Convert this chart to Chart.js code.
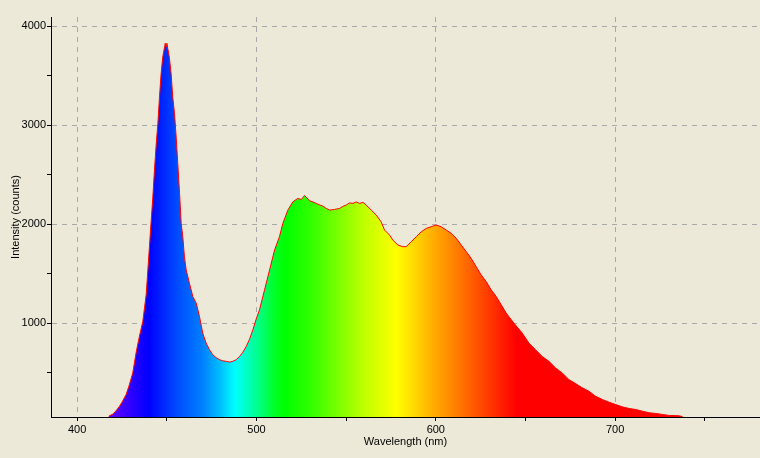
<!DOCTYPE html>
<html>
<head>
<meta charset="utf-8">
<script src="https://cdn.jsdelivr.net/npm/chart.js@4/dist/chart.umd.min.js"></script>
<style>
  html, body { margin: 0; padding: 0; background: #ece9d8; }
  #wrap { width: 760px; height: 458px; position: relative; }
</style>
</head>
<body>
<div id="wrap"><canvas id="spectrum"></canvas></div>
<script>
// spectrum readings (nm, counts)
const wavelengths = [417.6, 420, 422, 423.6, 425, 427.3, 429, 431, 433, 434.7, 436.6, 438.5,
  440.3, 441.3, 442.2, 443.1, 444.1, 445, 445.9, 446.8, 447.7, 448.7, 449.1, 449.6, 450, 450.5,
  451.4, 452.4, 453.3, 454.3, 455.2, 456.1, 457.1, 458, 458.9, 459.8, 460.8, 462.6, 464.5, 466.4,
  468.2, 470, 471.9, 473.8, 475.6, 477.5, 479.4, 481.2, 483.1, 485, 486.8, 488.7, 490.6, 492.4,
  494.3, 496.2, 498, 500, 501.7, 504.5, 507.3, 510.1, 512.8, 514.7, 517.5, 520.3, 523, 525, 526.8,
  529.6, 531.5, 533.3, 535.2, 537, 538.9, 540.8, 543.5, 546.3, 548.2, 550, 551.9, 553.8, 555.6,
  557.5, 559.4, 561.2, 564, 566.8, 569.5, 571.4, 574.2, 576, 578.8, 581.6, 583.5, 586.3, 589.1,
  591.9, 594.6, 597.4, 600.2, 603, 605.8, 608.6, 611.4, 614.2, 617, 619.7, 622.5, 625.3, 628.1,
  630.9, 633.7, 636.5, 639.3, 643.5, 648.2, 651.9, 655.6, 659.3, 663.1, 666.8, 670.5, 674.2, 678,
  681.7, 685.4, 689.1, 692.9, 696.6, 700.3, 704, 707.8, 711.5, 715.2, 718.9, 722.7, 726.4, 730.1,
  733.5, 735.7, 737.6];
const counts = [58, 80, 120, 159, 200, 277, 370, 496, 714, 865, 1016, 1290,
  1772, 2041, 2276, 2545, 2815, 3016, 3284, 3520, 3687, 3788, 3830, 3795, 3830, 3780,
  3687, 3520, 3284, 3117, 2881, 2613, 2311, 2008, 1873, 1671, 1537, 1403, 1268, 1201,
  1066, 899, 798, 731, 680, 650, 630, 618, 613, 605, 613, 630, 663, 705,
  764, 840, 932, 1050, 1134, 1336, 1537, 1739, 1873, 2008, 2142, 2226, 2260, 2250, 2290,
  2236, 2225, 2210, 2195, 2182, 2160, 2142, 2149, 2159, 2180, 2193, 2215, 2210, 2225,
  2210, 2220, 2193, 2142, 2092, 2024, 1941, 1890, 1840, 1789, 1772, 1772, 1823, 1873,
  1923, 1957, 1974, 1991, 1974, 1941, 1907, 1857, 1789, 1722, 1655, 1571, 1487, 1419,
  1336, 1268, 1184, 1100, 1000, 899, 798, 731, 663, 613, 546, 496, 428, 388,
  345, 311, 260, 227, 200, 176, 153, 136, 126, 109, 93, 86, 76, 66,
  64, 62, 55];

const xTicks = [400, 450, 500, 550, 600, 650, 700, 750];
const xLabels = [400, 500, 600, 700];
const yTicks = [500, 1000, 1500, 2000, 2500, 3000, 3500, 4000];
const yLabels = [1000, 2000, 3000, 4000];

// colour of the light at each wavelength, for the fill
const specNm = [414, 422, 432, 440, 455, 470, 480, 488, 500, 510, 516, 530, 545, 560, 578, 590, 600, 615, 630, 645, 760];
const specColors = ['#7000ff', '#5200ff', '#2400ff', '#0000ff', '#0048ff', '#0080ff', '#00c0ff', '#00ffff', '#00ff90',
  '#00ff28', '#00ff00', '#30ff00', '#78ff00', '#c0ff00', '#ffff00', '#ffd000', '#ffa800', '#ff7000', '#ff3800',
  '#ff0000', '#ff0000'];

const FONT = { family: 'Liberation Sans, Arial, sans-serif', size: 11 };

function spectrumFill(context) {
  const chart = context.chart;
  if (!chart.chartArea) return null;
  const xs = chart.scales.x;
  const first = specNm[0], last = specNm[specNm.length - 1];
  const g = chart.ctx.createLinearGradient(xs.getPixelForValue(first), 0, xs.getPixelForValue(last), 0);
  specNm.forEach((nm, i) => g.addColorStop((nm - first) / (last - first), specColors[i]));
  return g;
}

const gridColor = (labels) => (ctx) => (ctx.tick && labels.includes(ctx.tick.value)) ? '#a8a8a8' : 'rgba(0,0,0,0)';

new Chart(document.getElementById('spectrum'), {
  type: 'line',
  data: {
    datasets: [{
      data: wavelengths.map((w, i) => ({ x: w, y: counts[i] })),
      borderColor: '#ff0000',
      borderWidth: 1,
      backgroundColor: spectrumFill,
      fill: 'start',
      pointRadius: 0,
      tension: 0
    }]
  },
  options: {
    responsive: true,
    maintainAspectRatio: false,
    animation: false,
    layout: { padding: { top: 17, left: 0, right: 0, bottom: 0 } },
    plugins: { legend: { display: false }, tooltip: { enabled: false } },
    scales: {
      x: {
        type: 'linear',
        min: 385.4,
        max: 780.8,
        z: 1,
        afterBuildTicks: (s) => { s.ticks = xTicks.map(v => ({ value: v })); },
        afterFit: (s) => { s.height = 41; },
        ticks: {
          autoSkip: false, maxRotation: 0, padding: 2, color: '#000', font: FONT,
          callback: (v) => xLabels.includes(v) ? String(v) : ''
        },
        grid: {
          color: gridColor(xLabels), lineWidth: 1,
          tickColor: '#000', tickLength: 4, tickBorderDash: [], tickWidth: 1
        },
        border: { display: true, color: '#000', width: 1, dash: [5, 5] },
        title: { display: true, text: 'Wavelength (nm)', color: '#000', font: FONT, padding: { top: 0, bottom: 9 } }
      },
      y: {
        min: 50,
        max: 4095,
        z: 1,
        afterBuildTicks: (s) => { s.ticks = yTicks.map(v => ({ value: v })); },
        afterFit: (s) => { s.width = 51; },
        ticks: {
          autoSkip: false, padding: 1, color: '#000', font: FONT,
          callback: (v) => yLabels.includes(v) ? String(v) : ''
        },
        grid: {
          color: gridColor(yLabels), lineWidth: 1,
          tickColor: '#000', tickLength: 4, tickBorderDash: [], tickWidth: 1
        },
        border: { display: true, color: '#000', width: 1, dash: [5, 5] },
        title: { display: true, text: 'Intensity (counts)', color: '#000', font: FONT, padding: { top: 9, bottom: 0 } }
      }
    }
  }
});
</script>
</body>
</html>
